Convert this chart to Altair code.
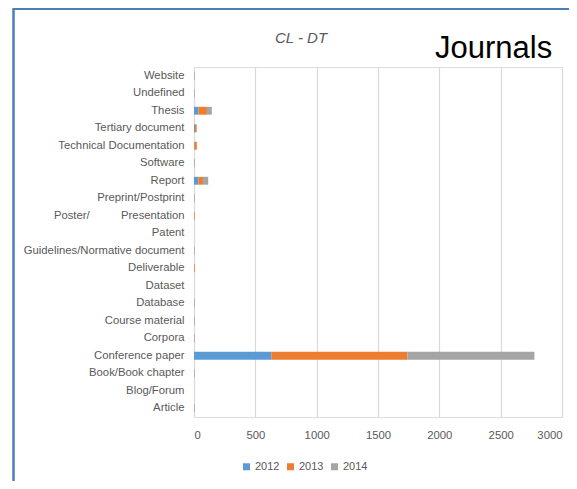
import altair as alt
import pandas as pd

categories = [
    "Website", "Undefined", "Thesis", "Tertiary document", "Technical Documentation",
    "Software", "Report", "Preprint/Postprint",
    "Poster/\u00a0\u00a0\u00a0\u00a0\u00a0\u00a0\u00a0\u00a0\u00a0 Presentation",
    "Patent", "Guidelines/Normative document", "Deliverable", "Dataset", "Database",
    "Course material", "Corpora", "Conference paper", "Book/Book chapter",
    "Blog/Forum", "Article",
]
years = ["2012", "2013", "2014"]
v2012 = [0, 0, 35, 8, 3, 0, 35, 0, 0, 0, 0, 0, 0, 0, 0, 0, 630, 0, 0, 0]
v2013 = [0, 0, 70, 14, 20, 0, 38, 0, 6, 0, 0, 6, 0, 0, 0, 0, 1110, 0, 0, 0]
v2014 = [6, 6, 40, 0, 0, 6, 43, 6, 0, 0, 6, 0, 0, 6, 6, 6, 1035, 6, 0, 6]
colors = ["#5B9BD5", "#ED7D31", "#A5A5A5"]
x_ticks = [0, 500, 1000, 1500, 2000, 2500, 3000]

rows = []
for i, c in enumerate(categories):
    for y, vals, o in zip(years, [v2012, v2013, v2014], [0, 1, 2]):
        rows.append({"category": c, "year": y, "value": vals[i], "ord": o})
df = pd.DataFrame(rows)

FONT = "Liberation Sans"
GREY = "#595959"

bars = alt.Chart(df).mark_bar().encode(
    y=alt.Y("category:N", sort=categories,
            scale=alt.Scale(paddingInner=0.55, paddingOuter=0.275),
            axis=alt.Axis(title=None, ticks=False, domain=False, labelPadding=10,
                          labelFont=FONT, labelFontSize=11.3, labelColor=GREY,
                          grid=False)),
    x=alt.X("value:Q", stack="zero",
            scale=alt.Scale(domain=[0, 3000], nice=False),
            axis=alt.Axis(title=None, values=x_ticks, format="d", ticks=False,
                          domain=False, labelPadding=12, labelFont=FONT,
                          labelFontSize=11.3, labelColor=GREY,
                          gridColor="#d9d9d9", gridWidth=1.2)),
    color=alt.Color("year:N", sort=years,
                    scale=alt.Scale(domain=years, range=colors),
                    legend=alt.Legend(title=None, orient="none", direction="horizontal",
                                      legendX=47, legendY=394, symbolType="square",
                                      symbolSize=49, symbolStrokeWidth=0,
                                      labelFont=FONT, labelFontSize=11,
                                      labelColor=GREY, labelOffset=3,
                                      columnPadding=5)),
    order=alt.Order("ord:Q", sort="ascending"),
)

title_txt = alt.Chart(pd.DataFrame({"t": ["CL - DT"]})).mark_text(
    font=FONT, fontSize=15, fontStyle="italic", color=GREY, align="center",
    baseline="middle"
).encode(text="t:N", x=alt.value(107), y=alt.value(-29))

journals_txt = alt.Chart(pd.DataFrame({"t": ["Journals"]})).mark_text(
    font=FONT, fontSize=31, color="#000000", align="left", baseline="alphabetic"
).encode(text="t:N", x=alt.value(241), y=alt.value(-9))

left_line = alt.Chart(pd.DataFrame({"k": ["left"]})).mark_rule(
    color="#4a7ebb", strokeWidth=2.5
).encode(x=alt.value(-180.5), y=alt.value(-58), y2=alt.value(430))
top_line = alt.Chart(pd.DataFrame({"k": ["top"]})).mark_rule(
    color="#4a7ebb", strokeWidth=2
).encode(x=alt.value(-181.5), x2=alt.value(400), y=alt.value(-58))

chart = alt.layer(bars, title_txt, journals_txt, left_line, top_line).properties(
    width=368, height=350,
    autosize=alt.AutoSizeParams(type="none"),
    padding={"left": 186, "top": 59, "right": 7, "bottom": 64},
).configure_view(stroke=None).configure(background="white")

chart.save("out.html", embed_options={"renderer": "svg", "actions": False})
